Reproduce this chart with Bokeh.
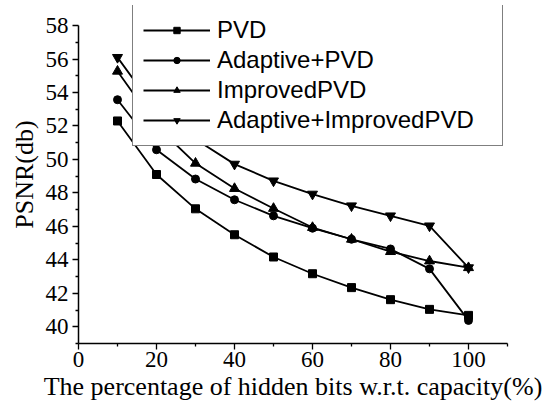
from bokeh.plotting import figure
from bokeh.models import Range1d, FixedTicker, Legend, LegendItem
from bokeh.embed import file_html
from bokeh.resources import INLINE

x_pct = [10, 20, 30, 40, 50, 60, 70, 80, 90, 100]
pvd = [52.3, 49.1, 47.05, 45.5, 44.17, 43.17, 42.34, 41.62, 41.04, 40.68]
adaptive_pvd = [53.57, 50.58, 48.83, 47.59, 46.63, 45.89, 45.23, 44.65, 43.46, 40.38]
improved_pvd = [55.27, 52.0, 49.77, 48.26, 47.07, 45.93, 45.23, 44.49, 43.93, 43.53]
adaptive_improved_pvd = [56.1, 52.9, 51.2, 49.72, 48.72, 47.93, 47.23, 46.63, 46.03, 43.53]

series_names = ["PVD", "Adaptive+PVD", "ImprovedPVD", "Adaptive+ImprovedPVD"]
series_values = [pvd, adaptive_pvd, improved_pvd, adaptive_improved_pvd]
markers = ["square", "circle", "triangle", "inverted_triangle"]
marker_sizes = [8, 8, 10, 10]

x_major = [0, 20, 40, 60, 80, 100]
x_minor = [10, 30, 50, 70, 90, 110]
y_major = [40, 42, 44, 46, 48, 50, 52, 54, 56, 58]
y_minor = [39, 41, 43, 45, 47, 49, 51, 53, 55, 57]

p = figure(width=548, height=411, output_backend="svg", toolbar_location=None,
           x_range=Range1d(0, 110), y_range=Range1d(39, 59.2),
           min_border_left=78, min_border_right=41, min_border_top=5, min_border_bottom=68)
p.outline_line_color = None
p.grid.visible = False
p.background_fill_color = "white"
p.border_fill_color = "white"

p.xaxis.ticker = FixedTicker(ticks=x_major, minor_ticks=x_minor)
p.yaxis.ticker = FixedTicker(ticks=y_major, minor_ticks=y_minor)
p.yaxis.bounds = (39, 58)
for ax in (p.xaxis, p.yaxis):
    ax.axis_line_width = 1.5
    ax.axis_line_color = "black"
    ax.major_tick_line_color = "black"
    ax.minor_tick_line_color = "black"
    ax.major_tick_line_width = 1.3
    ax.minor_tick_line_width = 1.3
    ax.major_tick_in = 0
    ax.minor_tick_in = 0
    ax.major_tick_out = 6
    ax.minor_tick_out = 3
    ax.major_label_text_font = "Liberation Serif"
    ax.major_label_text_font_size = "23px"
    ax.major_label_text_color = "black"
    ax.axis_label_text_font = "Liberation Serif"
    ax.axis_label_text_font_size = "26px"
    ax.axis_label_text_font_style = "normal"
    ax.axis_label_text_color = "black"

p.xaxis.axis_label = "The percentage of hidden bits w.r.t. capacity(%)"
p.yaxis.axis_label = "PSNR(db)"
p.xaxis.major_label_standoff = 2
p.xaxis.axis_label_standoff = 2
p.yaxis.major_label_standoff = 4
p.yaxis.axis_label_standoff = 4

items = []
for name, vals, mk, sz in zip(series_names, series_values, markers, marker_sizes):
    r1 = p.line(x_pct, vals, line_color="black", line_width=1.8)
    r2 = p.scatter(x_pct, vals, marker=mk, size=sz, fill_color="black", line_color="black")
    items.append(LegendItem(label=name, renderers=[r1, r2]))

legend = Legend(items=items, location=(54, 197), margin=0, padding=10,
                glyph_width=67, glyph_height=16, spacing=0, label_standoff=7,
                label_width=275, label_height=30,
                label_text_font="Liberation Sans", label_text_font_size="24px",
                label_text_color="black", border_line_color="black",
                border_line_width=1.5, background_fill_alpha=1.0)
p.add_layout(legend, "center")

open("out.html", "w").write(file_html(p, INLINE))
